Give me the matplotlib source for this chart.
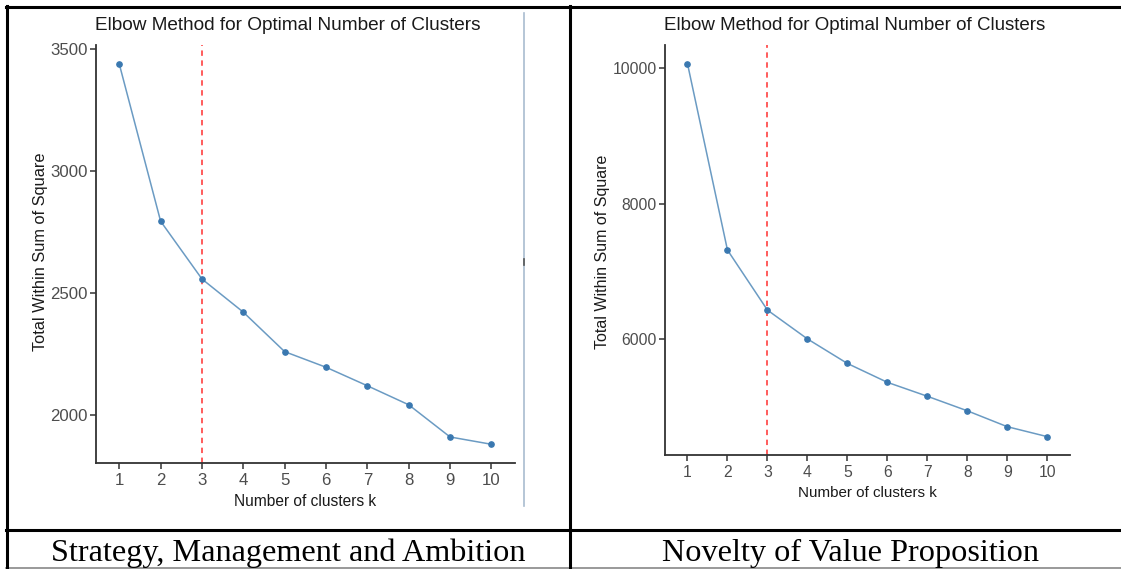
import numpy as np
import matplotlib
matplotlib.use("Agg")
import matplotlib.pyplot as plt
from matplotlib.lines import Line2D

# data
k = [1, 2, 3, 4, 5, 6, 7, 8, 9, 10]
wss_strategy = [3440, 2795, 2558, 2422, 2260, 2196, 2120, 2042, 1910, 1880]
wss_novelty = [10069, 7314, 6426, 6000, 5637, 5358, 5152, 4937, 4702, 4555]
yticks_strategy = [2000, 2500, 3000, 3500]
yticks_novelty = [6000, 8000, 10000]
k_opt = 3
captions = ["Strategy, Management and Ambition", "Novelty of Value Proposition"]
title = "Elbow Method for Optimal Number of Clusters"

W, H = 1121, 569
fig = plt.figure(figsize=(W / 100, H / 100), dpi=100)
plt.rcParams['font.family'] = ['Liberation Sans', 'DejaVu Sans']


def box(x0, x1, ytop, ybot):
    return [x0 / W, 1 - ybot / H, (x1 - x0) / W, (ybot - ytop) / H]


def hline(x0, x1, y, lw=2.2, c='black'):
    fig.add_artist(Line2D([x0 / W, x1 / W], [1 - y / H, 1 - y / H], color=c, lw=lw))


def vline(x, y0, y1, lw=2.2, c='black'):
    fig.add_artist(Line2D([x / W, x / W], [1 - y0 / H, 1 - y1 / H], color=c, lw=lw))


def elbow(rect, y, yticks, ylim, title_x, title_fs, ylab_x, ylab_fs, xlab_fs, tick_fs):
    ax = fig.add_axes(rect)
    ax.plot(k, y, color='#4682B4', lw=1.1, alpha=0.8, zorder=3)
    ax.plot(k, y, 'o', color='#3A78B0', ms=3.8, zorder=4)
    ax.axvline(k_opt, color='#FF3030', ls=(0, (3, 2.5)), lw=1.3, alpha=0.85)
    ax.set_xlim(0.43, 10.57)
    ax.set_ylim(*ylim)
    ax.set_xticks(k)
    ax.set_yticks(yticks)
    for s in ['top', 'right']:
        ax.spines[s].set_visible(False)
    for s in ['left', 'bottom']:
        ax.spines[s].set_color('#333333')
        ax.spines[s].set_linewidth(1.3)
    ax.tick_params(length=4, width=1.1, color='#333333', labelsize=tick_fs,
                   labelcolor='#4d4d4d', pad=3)
    ax.tick_params(axis='y', pad=1.5)
    fig.text(title_x / W, 1 - 25 / H, title, ha='center', va='center',
             fontsize=title_fs, color='#1a1a1a')
    fig.text(ylab_x / W, 1 - 252 / H, "Total Within Sum of Square", rotation=90,
             ha='center', va='center', fontsize=ylab_fs, color='#1a1a1a')
    ax.set_xlabel("Number of clusters k", fontsize=xlab_fs, color='#1a1a1a', labelpad=4)
    return ax


ax1 = elbow(box(95.7, 515, 45, 463.3), wss_strategy, yticks_strategy,
            (1802, 3518), 288, 13.7, 41, 11.8, 11.2, 12.1)
ax2 = elbow(box(664.7, 1070, 45, 455.3), wss_novelty, yticks_novelty,
            (4279, 10345), 855, 13.5, 602, 11.5, 10.9, 11.3)

# leftover border of the pasted image in the left cell
vline(524, 13, 506, lw=1.2, c='#A9BCD0')
vline(524, 259, 265, lw=1.2, c='#555555')

# table lines
hline(5.5, W, 7)
hline(5.5, W, 530)
hline(5.5, W, 568, lw=1.2, c='#888888')
vline(6.5, 6, 569)
vline(569.5, 6, 569)

for cx, txt in zip([288, 850], captions):
    fig.text(cx / W, 1 - 553 / H, txt, ha='center', va='center', fontsize=23.2,
             family=['Liberation Serif', 'DejaVu Serif'], color='black')

fig.savefig("out.png", dpi=100)
